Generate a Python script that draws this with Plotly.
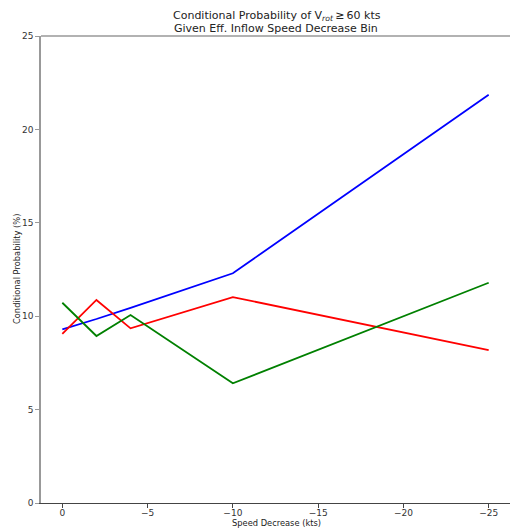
import plotly.graph_objects as go

speed_decrease = [0, -2, -4, -10, -25]
blue_prob = [9.3, 9.85, 10.45, 12.3, 21.85]
red_prob = [9.05, 10.87, 9.35, 11.02, 8.19]
green_prob = [10.72, 8.94, 10.06, 6.41, 11.79]

x_ticks = [0, -5, -10, -15, -20, -25]
y_ticks = [0, 5, 10, 15, 20, 25]

fig = go.Figure()
for vals, col in [(blue_prob, "blue"), (red_prob, "red"), (green_prob, "green")]:
    fig.add_trace(go.Scatter(x=speed_decrease, y=vals, mode="lines",
                             line=dict(color=col, width=1.8), showlegend=False))

font = "DejaVu Sans, sans-serif"
H = 467.0  # plot height in px
W = 469.0  # plot width in px


def py(pix):
    return (503 - pix) / H


def px(pix):
    return (pix - 41) / W


fig.update_layout(
    width=510, height=528,
    margin=dict(l=41, r=0, t=36, b=25),
    plot_bgcolor="white", paper_bgcolor="white",
    font=dict(family=font, size=9, color="#333"),
    xaxis=dict(range=[1.25, -26.25], tickvals=x_ticks,
               ticktext=["0" if v == 0 else "\u2212" + str(-v) for v in x_ticks],
               showgrid=False, zeroline=False, showline=True, linecolor="#444", linewidth=1.2,
               ticks="outside", ticklen=4, tickcolor="#444", automargin=False,
               ticklabelstandoff=-3),
    yaxis=dict(range=[0, 25], tickvals=y_ticks, showgrid=False, zeroline=False,
               showline=True, linecolor="#999", linewidth=1.5,
               ticks="outside", ticklen=4, tickcolor="#999", automargin=False),
    shapes=[dict(type="line", xref="paper", yref="paper", x0=0, x1=1, y0=1, y1=1,
                 line=dict(color="#999", width=1.5))],
    annotations=[
        dict(text="Conditional Probability of V<sub><i>rot</i></sub>\u2009≥\u200960 kts",
             xref="paper", yref="paper", x=px(277), y=py(16.5), xanchor="center", yanchor="middle",
             showarrow=False, font=dict(size=11, color="#222")),
        dict(text="Given Eff. Inflow Speed Decrease Bin",
             xref="paper", yref="paper", x=px(276), y=py(28), xanchor="center", yanchor="middle",
             showarrow=False, font=dict(size=11, color="#222")),
        dict(text="Speed Decrease (kts)",
             xref="paper", yref="paper", x=px(276), y=py(523), xanchor="center", yanchor="middle",
             showarrow=False, font=dict(size=8.3, color="#222")),
        dict(text="Conditional Probability (%)", textangle=-90,
             xref="paper", yref="paper", x=px(17), y=py(269), xanchor="center", yanchor="middle",
             showarrow=False, font=dict(size=8.3, color="#222")),
    ],
)

fig.write_html("out.html", config={"displayModeBar": False},
               post_script="document.body.style.margin='0';")
